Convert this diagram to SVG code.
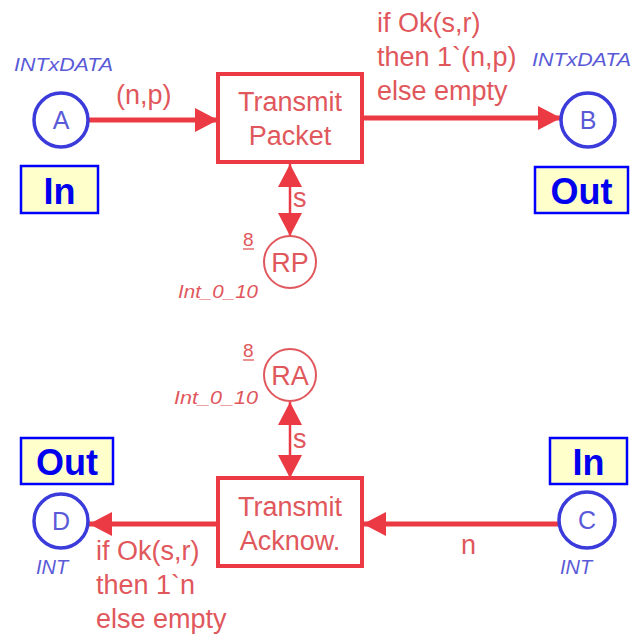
<svg xmlns="http://www.w3.org/2000/svg" width="631" height="634" viewBox="0 0 631 634">
<style>
.line{stroke:#ec3a44;stroke-width:5;fill:none}
.thin{stroke-width:2.5}
.trans{fill:#fff;stroke:#ec3a44;stroke-width:4}
.tt{font-family:"Liberation Sans",Arial,sans-serif;font-size:27px;fill:#e0575c}
.lbl{font-family:"Liberation Sans",Arial,sans-serif;font-size:27px;fill:#e0575c}
.type{font-family:"Liberation Sans",Arial,sans-serif;font-size:18px;font-style:italic;fill:#5a5ad8}
.rtype{font-family:"Liberation Sans",Arial,sans-serif;font-size:19px;font-style:italic;fill:#e0575c}
.num{font-family:"Liberation Sans",Arial,sans-serif;font-size:19px;fill:#e0575c}
.bp{fill:#fff;stroke:#3b3bdb;stroke-width:3.5}
.rp{fill:#fff;stroke:#e0575c;stroke-width:2}
.bname{font-family:"Liberation Sans",Arial,sans-serif;font-size:25px;fill:#5a5ad8}
.rname{font-family:"Liberation Sans",Arial,sans-serif;font-size:27px;fill:#e0575c}
.tag{fill:#ffffcc;stroke:#0000ff;stroke-width:2.5}
.tagt{font-family:"Liberation Sans",Arial,sans-serif;font-size:36px;font-weight:bold;fill:#0000ee}
</style>
<defs>
<marker id="ah" markerUnits="userSpaceOnUse" markerWidth="24" markerHeight="26" viewBox="0 0 24 26" refX="23" refY="13" orient="auto">
<path d="M0,1 L23,13 L0,25 Z" fill="#ec3a44"/>
</marker>
</defs>
<rect width="631" height="634" fill="#fff"/>
<g id="connectors">
<line class="line" x1="88" y1="120" x2="218" y2="120" marker-end="url(#ah)"/>
<line class="line" x1="362" y1="118" x2="561" y2="118" marker-end="url(#ah)"/>
<line class="line thin" x1="290" y1="200" x2="290" y2="164" marker-end="url(#ah)"/>
<line class="line thin" x1="290" y1="200" x2="290" y2="236" marker-end="url(#ah)"/>
<line class="line thin" x1="290" y1="440" x2="290" y2="402" marker-end="url(#ah)"/>
<line class="line thin" x1="290" y1="440" x2="290" y2="478" marker-end="url(#ah)"/>
<line class="line" x1="218" y1="524" x2="89" y2="524" marker-end="url(#ah)"/>
<line class="line" x1="559" y1="524" x2="363" y2="524" marker-end="url(#ah)"/>
<text class="lbl" x="116" y="104">(n,p)</text>
<text class="lbl" x="377" y="32">if Ok(s,r)</text>
<text class="lbl" x="377" y="66">then 1`(n,p)</text>
<text class="lbl" x="377" y="100">else empty</text>
<text class="lbl" x="293" y="207">s</text>
<text class="lbl" x="293" y="448">s</text>
<text class="lbl" x="96" y="560">if Ok(s,r)</text>
<text class="lbl" x="96" y="594">then 1`n</text>
<text class="lbl" x="96" y="628">else empty</text>
<text class="lbl" x="461" y="554">n</text>
</g>
<g id="A">
<text class="type" x="14" y="71" textLength="99" lengthAdjust="spacingAndGlyphs">INTxDATA</text>
<circle class="bp" cx="61" cy="120" r="27"/>
<text class="bname" x="61" y="129" text-anchor="middle">A</text>
<rect class="tag" x="21" y="166" width="77" height="47"/>
<text class="tagt" x="59.5" y="204" text-anchor="middle">In</text>
</g>
<g id="TransmitPacket">
<rect class="trans" x="218" y="74" width="144" height="88"/>
<text class="tt" x="290" y="111" text-anchor="middle">Transmit</text>
<text class="tt" x="290" y="145" text-anchor="middle">Packet</text>
</g>
<g id="B">
<text class="type" x="532" y="66" textLength="99" lengthAdjust="spacingAndGlyphs">INTxDATA</text>
<circle class="bp" cx="588" cy="120" r="27"/>
<text class="bname" x="588" y="129" text-anchor="middle">B</text>
<rect class="tag" x="535" y="167" width="93" height="46"/>
<text class="tagt" x="581.5" y="204" text-anchor="middle">Out</text>
</g>
<g id="RP">
<circle class="rp" cx="290" cy="262" r="26"/>
<text class="rname" x="290" y="272" text-anchor="middle">RP</text>
<text class="num" x="243" y="246">8</text>
<line x1="243" y1="249" x2="254" y2="249" stroke="#e0575c" stroke-width="1.3"/>
<text class="rtype" x="178" y="298" textLength="80" lengthAdjust="spacingAndGlyphs">Int_0_10</text>
</g>
<g id="RA">
<circle class="rp" cx="290" cy="375" r="26"/>
<text class="rname" x="290" y="385" text-anchor="middle">RA</text>
<text class="num" x="243" y="357">8</text>
<line x1="243" y1="360" x2="254" y2="360" stroke="#e0575c" stroke-width="1.3"/>
<text class="rtype" x="174" y="404" textLength="84" lengthAdjust="spacingAndGlyphs">Int_0_10</text>
</g>
<g id="TransmitAcknow">
<rect class="trans" x="218" y="478" width="144" height="88"/>
<text class="tt" x="290" y="516" text-anchor="middle">Transmit</text>
<text class="tt" x="290" y="550" text-anchor="middle">Acknow.</text>
</g>
<g id="D">
<rect class="tag" x="21" y="438" width="92" height="46"/>
<text class="tagt" x="67" y="475" text-anchor="middle">Out</text>
<circle class="bp" cx="61" cy="521" r="27"/>
<text class="bname" x="61" y="530" text-anchor="middle">D</text>
<text class="type" x="36" y="574" style="font-size:20px">INT</text>
</g>
<g id="C">
<rect class="tag" x="550" y="438" width="77" height="46"/>
<text class="tagt" x="588.5" y="475" text-anchor="middle">In</text>
<circle class="bp" cx="587" cy="520" r="28"/>
<text class="bname" x="587" y="529" text-anchor="middle">C</text>
<text class="type" x="560" y="574" style="font-size:20px">INT</text>
</g>
</svg>
